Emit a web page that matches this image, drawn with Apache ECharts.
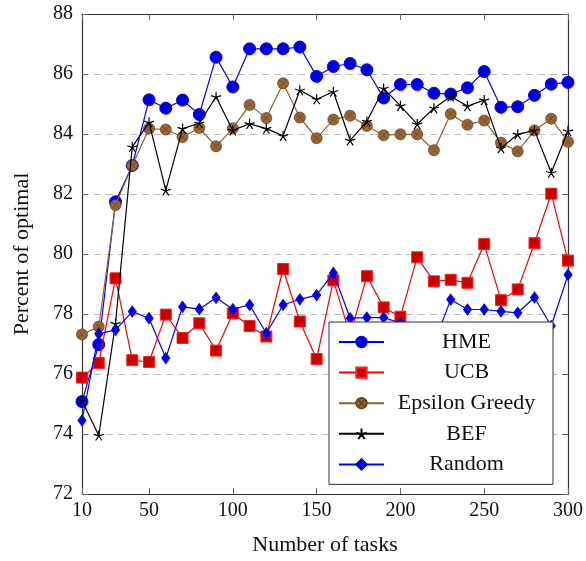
<!DOCTYPE html>
<html>
<head>
<meta charset="utf-8">
<script src="https://cdn.jsdelivr.net/npm/echarts@6/dist/echarts.min.js"></script>
<style>html,body{margin:0;padding:0;background:#fff}#c{width:586px;height:561px}</style>
</head>
<body>
<div id="c"></div>
<script>
var tasks = [10,20,30,40,50,60,70,80,90,100,110,120,130,140,150,160,170,180,190,200,210,220,230,240,250,260,270,280,290,300];
var xTicks = [10,50,100,150,200,250,300];
var hme = [75.08,76.98,81.74,82.95,85.14,84.86,85.13,84.65,86.56,85.57,86.84,86.84,86.84,86.90,85.92,86.25,86.35,86.14,85.20,85.65,85.65,85.36,85.33,85.54,86.08,84.89,84.91,85.29,85.66,85.72];
var ucb = [75.88,76.37,79.19,76.46,76.40,77.98,77.20,77.69,76.78,78.02,77.60,77.25,79.50,77.75,76.50,79.12,77.30,79.26,78.22,77.91,79.89,79.09,79.14,79.04,80.33,78.46,78.82,80.36,82.01,79.78];
var eps = [77.32,77.58,81.63,82.95,84.18,84.15,83.90,84.20,83.59,84.19,84.97,84.53,85.69,84.55,83.86,84.48,84.61,84.27,83.96,83.99,83.99,83.46,84.67,84.31,84.45,83.71,83.42,84.12,84.51,83.74];
var bef = [75.11,73.95,77.68,83.57,84.39,82.12,84.18,84.36,85.24,84.12,84.34,84.18,83.94,85.46,85.16,85.41,83.79,84.42,85.52,84.94,84.33,84.86,85.25,84.93,85.13,83.53,83.99,84.12,82.71,84.10];
var rnd = [74.45,77.34,77.47,78.08,77.86,76.53,78.24,78.16,78.54,78.16,78.30,77.36,78.30,78.49,78.63,79.37,77.86,77.88,77.88,77.70,77.50,77.00,78.48,78.15,78.15,78.09,78.04,78.55,77.60,79.31];

function pairs(v){ return tasks.map(function(t,i){ return [t, v[i]]; }); }
var FF = 'Liberation Serif';
var otimes = 'path://M0,10A10,10 0 1,1 20,10A10,10 0 1,1 0,10Z M2.93,2.93L17.07,17.07 M17.07,2.93L2.93,17.07';
var star = 'path://M10,10L10,0 M10,10L19.51,6.91 M10,10L15.88,18.09 M10,10L4.12,18.09 M10,10L0.49,6.91';

var chart = echarts.init(document.getElementById('c'), null, {renderer:'canvas'});
var tickStyle = {show:true, inside:true, length:6, lineStyle:{color:'#666', width:1}};
chart.setOption({
  animation:false,
  backgroundColor:'#fff',
  grid:{left:82, right:18, top:14, bottom:62, show:false},
  xAxis:[{
    type:'value', min:10, max:300, position:'bottom',
    axisLine:{show:true, lineStyle:{color:'#333', width:1.2}},
    axisTick:Object.assign({customValues:xTicks}, tickStyle),
    axisLabel:{customValues:xTicks, fontSize:20, fontFamily:FF, color:'#111', margin:7},
    splitLine:{show:false},
    name:'Number of tasks', nameLocation:'middle', nameGap:40,
    nameTextStyle:{fontSize:22, fontFamily:FF, color:'#111'}
  },{
    type:'value', min:10, max:300, position:'top',
    axisLine:{show:true, onZero:false, lineStyle:{color:'#333', width:1.2}},
    axisTick:Object.assign({customValues:xTicks}, tickStyle),
    axisLabel:{show:false}, splitLine:{show:false}
  }],
  yAxis:[{
    type:'value', min:72, max:88, interval:2, position:'left',
    axisLine:{show:true, lineStyle:{color:'#333', width:1.2}},
    axisTick:tickStyle,
    axisLabel:{fontSize:20, fontFamily:FF, color:'#111', margin:9},
    splitLine:{show:true, lineStyle:{color:'#bdbdbd', type:[7,5], width:1}},
    name:'Percent of optimal', nameLocation:'middle', nameGap:49,
    nameTextStyle:{fontSize:22, fontFamily:FF, color:'#111'}
  },{
    type:'value', min:72, max:88, interval:2, position:'right',
    axisLine:{show:true, onZero:false, lineStyle:{color:'#333', width:1.2}},
    axisTick:tickStyle, axisLabel:{show:false}, splitLine:{show:false}
  }],
  legend:{
    z:50, zlevel:0,
    orient:'vertical', left:329, top:322, padding:[9,9,9,9],
    backgroundColor:'#fff', borderColor:'#333', borderWidth:1,
    itemWidth:45, itemHeight:13, itemGap:8.6,
    data:['HME','UCB','Epsilon Greedy','BEF','Random'],
    formatter:function(n){ return '{a|'+n+'}'; },
    textStyle:{fontFamily:FF, fontSize:22, color:'#111',
      rich:{a:{width:155, align:'center', fontSize:22, lineHeight:22, fontFamily:FF, color:'#111'}}}
  },
  series:[
    {name:'HME', type:'line', data:pairs(hme), symbol:'circle', symbolSize:12,
     lineStyle:{color:'#0000ff', width:1.2}, itemStyle:{color:'#0000e0', borderColor:'#0000ff', borderWidth:1}, z:2},
    {name:'UCB', type:'line', data:pairs(ucb), symbol:'rect', symbolSize:11,
     lineStyle:{color:'#ff0000', width:1.2}, itemStyle:{color:'#cc0000', borderColor:'#ff2020', borderWidth:1}, z:3},
    {name:'Epsilon Greedy', type:'line', data:pairs(eps), symbol:otimes, symbolSize:11,
     lineStyle:{color:'#8f6035', width:1.2}, itemStyle:{color:'#9a6534', borderColor:'#6e4520', borderWidth:0.8}, z:4},
    {name:'BEF', type:'line', data:pairs(bef), symbol:star, symbolSize:10,
     lineStyle:{color:'#000', width:1.2}, itemStyle:{color:'#000', borderColor:'#000', borderWidth:1.2}, z:5},
    {name:'Random', type:'line', data:pairs(rnd), symbol:'diamond', symbolSize:[8,11],
     lineStyle:{color:'#0000ff', width:1.2}, itemStyle:{color:'#0000e0', borderColor:'#0000ff', borderWidth:1}, z:6}
  ]
});
</script>
</body>
</html>
